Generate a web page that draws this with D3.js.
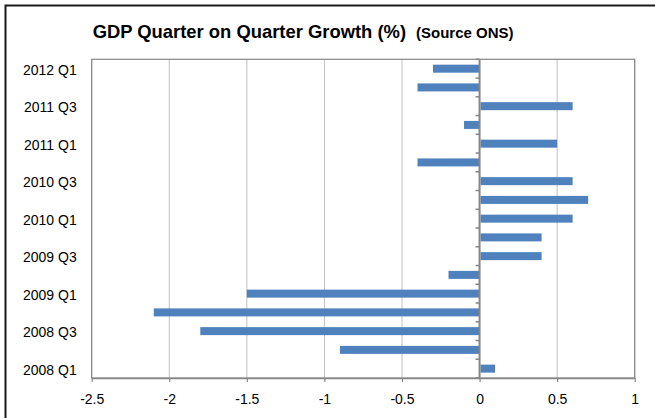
<!DOCTYPE html>
<html>
<head>
<meta charset="utf-8">
<script src="https://cdn.jsdelivr.net/npm/d3@7"></script>
<style>
  html, body { margin: 0; padding: 0; background: #fff; }
  svg { display: block; }
</style>
</head>
<body>
<svg id="chart" width="655" height="418"></svg>
<script>
// Quarterly GDP growth, 2008 Q1 to 2012 Q1 (per cent, quarter on quarter)
const quarters = [
  "2008 Q1", "2008 Q2", "2008 Q3", "2008 Q4",
  "2009 Q1", "2009 Q2", "2009 Q3", "2009 Q4",
  "2010 Q1", "2010 Q2", "2010 Q3", "2010 Q4",
  "2011 Q1", "2011 Q2", "2011 Q3", "2011 Q4",
  "2012 Q1"
];
const growth = [
  0.1, -0.9, -1.8, -2.1,
  -1.5, -0.2, 0.4, 0.4,
  0.6, 0.7, 0.6, -0.4,
  0.5, -0.1, 0.6, -0.4,
  -0.3
];
// Only every other quarter gets a category label
const labelledQuarters = ["2008 Q1", "2008 Q3", "2009 Q1", "2009 Q3", "2010 Q1",
  "2010 Q3", "2011 Q1", "2011 Q3", "2012 Q1"];
const xTicks = [-2.5, -2, -1.5, -1, -0.5, 0, 0.5, 1];
const xDomain = [-2.5, 1];

const svg = d3.select("#chart");
const plot = { left: 91.7, right: 634.7, top: 59.3, bottom: 378 };

// Outer chart frame
svg.append("rect")
  .attr("x", 5.5).attr("y", 5.5)
  .attr("width", 700).attr("height", 500)
  .attr("fill", "#fff")
  .attr("stroke", "#1a1a1a")
  .attr("stroke-width", 2);

// Title
const title = svg.append("text")
  .attr("x", plot.left + 1)
  .attr("y", 38)
  .attr("font-family", "Liberation Sans, Arial, sans-serif")
  .attr("font-weight", "bold")
  .attr("fill", "#000");
title.append("tspan").attr("font-size", 18.4).text("GDP Quarter on Quarter Growth (%)");
title.append("tspan").attr("font-size", 15).attr("dx", 10).text("(Source ONS)");

const x = d3.scaleLinear().domain(xDomain).range([plot.left, plot.right]);
const y = d3.scaleBand().domain(quarters).range([plot.bottom, plot.top]).paddingInner(0).paddingOuter(0);
const barH = 8;

// Vertical gridlines
svg.append("g")
  .selectAll("line")
  .data(xTicks)
  .join("line")
  .attr("x1", d => x(d)).attr("x2", d => x(d))
  .attr("y1", plot.top).attr("y2", plot.bottom)
  .attr("stroke", "#c0c0c0")
  .attr("stroke-width", 1);

// Plot-area border
svg.append("rect")
  .attr("x", plot.left).attr("y", plot.top)
  .attr("width", plot.right - plot.left).attr("height", plot.bottom - plot.top)
  .attr("fill", "none")
  .attr("stroke", "#868686")
  .attr("stroke-width", 1.2);

// Bars
svg.append("g")
  .selectAll("rect")
  .data(quarters.map((q, i) => ({ q, v: growth[i] })))
  .join("rect")
  .attr("x", d => Math.min(x(0), x(d.v)) + (d.v > 0 ? 1 : 0))
  .attr("width", d => Math.abs(x(d.v) - x(0)) - (d.v > 0 ? 1 : 0))
  .attr("y", d => y(d.q) + y.bandwidth() / 2 - barH / 2)
  .attr("height", barH)
  .attr("fill", "#4f81bd");

// Bottom value axis
const xAxis = d3.axisBottom(x)
  .tickValues(xTicks)
  .tickFormat(d => String(d))
  .tickSizeInner(4)
  .tickSizeOuter(0)
  .tickPadding(12);
const gx = svg.append("g")
  .attr("transform", `translate(0,${plot.bottom})`)
  .call(xAxis);
gx.select(".domain").attr("stroke", "#868686").attr("stroke-width", 1.5);
gx.selectAll(".tick line").attr("stroke", "#868686").attr("stroke-width", 1.2);
gx.selectAll(".tick text")
  .attr("font-family", "Liberation Sans, Arial, sans-serif")
  .attr("font-size", 14)
  .attr("fill", "#000");

// Category axis drawn through zero, with tick marks between quarters
const boundaries = quarters.map(q => y(q)).concat([plot.bottom]);
const gy = svg.append("g");
gy.append("line")
  .attr("x1", x(0)).attr("x2", x(0))
  .attr("y1", plot.top).attr("y2", plot.bottom)
  .attr("stroke", "#868686")
  .attr("stroke-width", 2);
gy.selectAll("line.tick")
  .data(boundaries)
  .join("line")
  .attr("class", "tick")
  .attr("x1", x(0) - 4).attr("x2", x(0))
  .attr("y1", d => d).attr("y2", d => d)
  .attr("stroke", "#868686")
  .attr("stroke-width", 1.5);

// Category labels, on the left of the plot area
svg.append("g")
  .selectAll("text")
  .data(labelledQuarters)
  .join("text")
  .attr("x", plot.left - 15)
  .attr("y", d => y(d) + y.bandwidth() / 2 + 6)
  .attr("text-anchor", "end")
  .attr("font-family", "Liberation Sans, Arial, sans-serif")
  .attr("font-size", 14)
  .attr("fill", "#000")
  .text(d => d);
</script>
</body>
</html>
